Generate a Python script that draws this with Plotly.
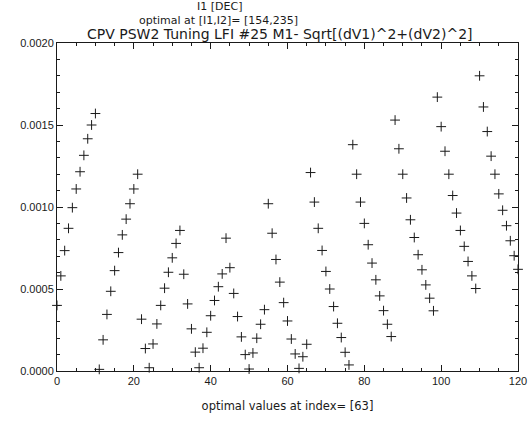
import plotly.graph_objects as go

x_index = list(range(0, 121))
values = [
    0.00040, 0.00058, 0.000734, 0.00087, 0.000996, 0.00111, 0.001215, 0.001315, 0.001416, 0.0015,
    0.00157, 0.00001, 0.00019, 0.000345, 0.000486, 0.000612, 0.000722, 0.00083, 0.000926, 0.00102,
    0.00111, 0.0012, 0.000316, 0.000137, 0.00002, 0.000165, 0.000287, 0.0004, 0.000505, 0.000602,
    0.00069, 0.000778, 0.000857, 0.00059, 0.000409, 0.000257, 0.000115, 0.00002, 0.000139, 0.000236,
    0.000337, 0.00043, 0.000514, 0.000592, 0.00081, 0.00063, 0.000473, 0.000332, 0.000208, 0.0001,
    0.000012, 0.00011, 0.0002, 0.000285, 0.000374, 0.00102, 0.00084, 0.00068, 0.000542, 0.000417,
    0.000305, 0.000195, 0.000104, 0.000016, 0.000087, 0.000163, 0.00121, 0.00103, 0.00087, 0.000735,
    0.000607, 0.0005, 0.000393, 0.000291, 0.000204, 0.000114, 0.000037, 0.00138, 0.0012, 0.00103,
    0.0009, 0.00077, 0.000658, 0.000556, 0.000458, 0.000368, 0.000285, 0.00021, 0.00153, 0.001355,
    0.0012, 0.001055, 0.000922, 0.000814, 0.000709, 0.000617, 0.000525, 0.000444, 0.000367, 0.00167,
    0.00149, 0.00134, 0.0012, 0.00107, 0.000963, 0.000857, 0.00076, 0.000668, 0.00058, 0.000503,
    0.0018, 0.00161, 0.00146, 0.00131, 0.0012, 0.00108, 0.00098, 0.000886, 0.000794, 0.000703,
    0.00062,
]

title_main = "CPV PSW2 Tuning LFI #25 M1- Sqrt[(dV1)^2+(dV2)^2]"
title_sub1 = "I1 [DEC]"
title_sub2 = "optimal at [I1,I2]= [154,235]"
x_title = "optimal values at index= [63]"

FONT = "DejaVu Sans"
TICKFONT = "Liberation Sans"
INK = "#1a1a1a"

W, H = 529, 422
ML, MR, MT, MB = 57, 11, 43, 51

fig = go.Figure()
fig.add_trace(go.Scatter(
    x=x_index, y=values, mode="markers",
    marker=dict(symbol="cross-thin", size=7, line=dict(color=INK, width=1), color=INK),
    showlegend=False, cliponaxis=False, hoverinfo="skip",
))

axis_common = dict(
    showline=True, linecolor=INK, linewidth=1, mirror="allticks",
    ticks="inside", ticklen=6, tickwidth=1, tickcolor=INK,
    showgrid=False, zeroline=False, automargin=False,
    tickfont=dict(family=TICKFONT, size=11, color=INK),
)

fig.update_xaxes(
    range=[0, 120], tick0=0, dtick=20,
    minor=dict(dtick=5, ticks="inside", ticklen=3, tickcolor=INK, showgrid=False),
    title=dict(text=x_title, font=dict(family=FONT, size=11.5, color=INK), standoff=15),
    **axis_common,
)
fig.update_yaxes(
    range=[0, 0.002], tick0=0, dtick=0.0005, tickformat=".4f",
    minor=dict(dtick=0.0001, ticks="inside", ticklen=3, tickcolor=INK, showgrid=False),
    **axis_common,
)

plot_h = H - MT - MB
plot_w = W - ML - MR

def px_to_paper(xpix, ypix):
    return (xpix - ML) / plot_w, (H - MB - ypix) / plot_h

anns = []
for text, xpix, ypix, size in [
    (title_main, 280, 34, 14),
    (title_sub2, 218, 20, 11),
    (title_sub1, 219, 6, 11),
]:
    px, py = px_to_paper(xpix, ypix)
    anns.append(dict(text=text, x=px, y=py, xref="paper", yref="paper", showarrow=False,
                     xanchor="center", yanchor="middle",
                     font=dict(family=FONT, size=size, color=INK)))

fig.update_layout(
    width=W, height=H,
    margin=dict(l=ML, r=MR, t=MT, b=MB),
    paper_bgcolor="white", plot_bgcolor="white",
    annotations=anns,
)

fig.write_html("out.html", config={"displayModeBar": False, "staticPlot": True},
               post_script="document.body.style.margin='0px';")
